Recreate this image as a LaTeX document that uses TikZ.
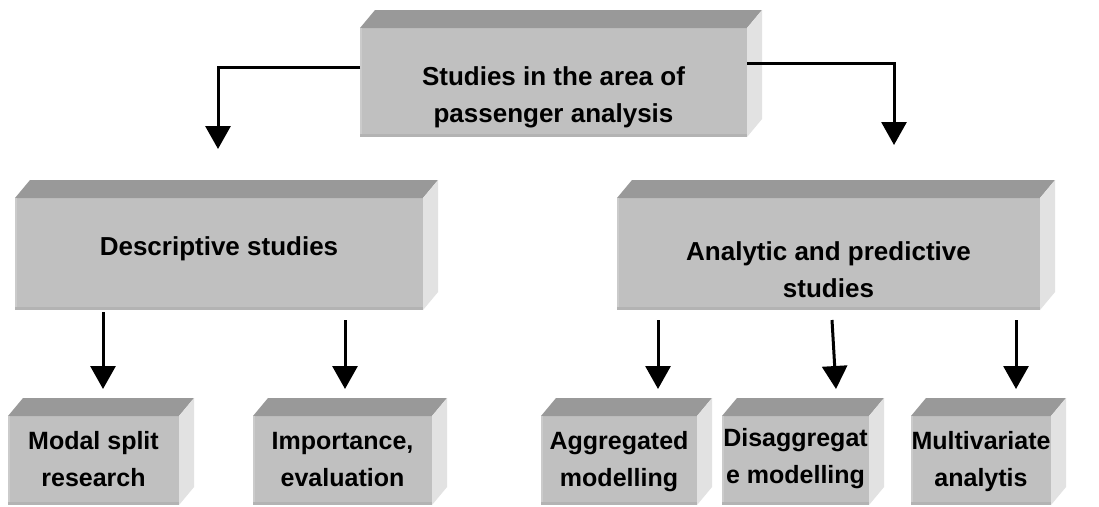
\documentclass[tikz,border=0pt]{standalone}
\usepackage{fontspec}
\setmainfont{Liberation Sans}
\usetikzlibrary{arrows.meta,calc}

\definecolor{facefront}{HTML}{C0C0C0}
\definecolor{facetop}{HTML}{999999}
\definecolor{faceside}{HTML}{E2E2E2}
\definecolor{edgedark}{HTML}{B3B3B3}
\definecolor{edgelight}{HTML}{CBCBCB}

\tikzset{
  front/.style={fill=facefront, draw=none, inner sep=0pt, outer sep=0pt, anchor=north west},
  boxtext/.style={font=\bfseries\fontsize{26}{37}\selectfont, align=center, anchor=north, inner sep=0pt},
  smalltext/.style={boxtext, font=\bfseries\fontsize{25}{37}\selectfont},
  flow/.style={line width=3pt, -{Triangle[width=25pt,length=23pt]}},
}

% a shaded block: name, left, top, right, bottom (front face), with top and side faces
\newcommand\slab[5]{%
  \node[front, minimum width={(#4-#2)*1pt}, minimum height={(#5-#3)*1pt}] (#1) at (#2,#3) {};
  \fill[facetop] (#1.north west) -- ++(15,-18) -- ([shift={(15,-18)}]#1.north east) -- (#1.north east) -- cycle;
  \fill[faceside] (#1.north east) -- ++(15,-18) -- ([shift={(15,-18)}]#1.south east) -- (#1.south east) -- cycle;
  \fill[edgedark] (#1.south west) rectangle ([yshift=3pt]#1.south east);
  \fill[edgelight] ([yshift=3pt]#1.south west) rectangle ([xshift=2pt]#1.north west);
}

\begin{document}
\begin{tikzpicture}[x=1pt, y=-1pt]
\path[use as bounding box, fill=white] (0,0) rectangle (1099,506);

% blocks
\slab{top}{360}{28}{747}{137}
\slab{desc}{15}{198}{423}{310}
\slab{anal}{617}{198}{1040}{310}
\slab{modal}{8}{416}{179}{505}
\slab{imp}{253}{416}{432}{505}
\slab{agg}{541}{416}{697}{505}
\slab{dis}{722}{416}{869}{505}
\slab{mul}{911}{416}{1051}{505}

% block texts
\node[boxtext] (top-t) at (553.5,66) {Studies in the area of\\passenger analysis};
\node[boxtext] (desc-t) at (219,236) {Descriptive studies};
\node[boxtext] (anal-t) at (828.5,241) {Analytic and predictive\\studies};
\node[smalltext] (modal-t) at (93.5,430.8) {Modal split\\research};
\node[smalltext] (imp-t) at (342.5,432.1) {Importance,\\evaluation};
\node[smalltext] (agg-t) at (619,430.8) {Aggregated\\modelling};
\node[smalltext] (dis-t) at (795.5,428.1) {Disaggregat\\e modelling};
\node[smalltext] (mul-t) at (981,430.8) {Multivariate\\analytis};

% connectors
\draw[flow] ([yshift=15.5pt]top.west) -| ([xshift=-1pt,yshift=49pt]desc.north);
\draw[flow] ([yshift=19.5pt]top.east) -| ([xshift=65.5pt,yshift=53pt]anal.north);

\draw[flow] ([xshift=-116pt,yshift=-2pt]desc.south) -- ([xshift=9.5pt,yshift=27pt]modal.north);
\draw[flow] ([xshift=126pt,yshift=-10pt]desc.south) -- ([xshift=2.5pt,yshift=27pt]imp.north);

\draw[flow] ([xshift=-170.5pt,yshift=-10pt]anal.south) -- ([xshift=39pt,yshift=27pt]agg.north);
\draw[flow] ([xshift=3.5pt,yshift=-10pt]anal.south) -- ([xshift=40.5pt,yshift=27pt]dis.north);
\draw[flow] ([xshift=187.5pt,yshift=-10pt]anal.south) -- ([xshift=35pt,yshift=27pt]mul.north);
\end{tikzpicture}
\end{document}
